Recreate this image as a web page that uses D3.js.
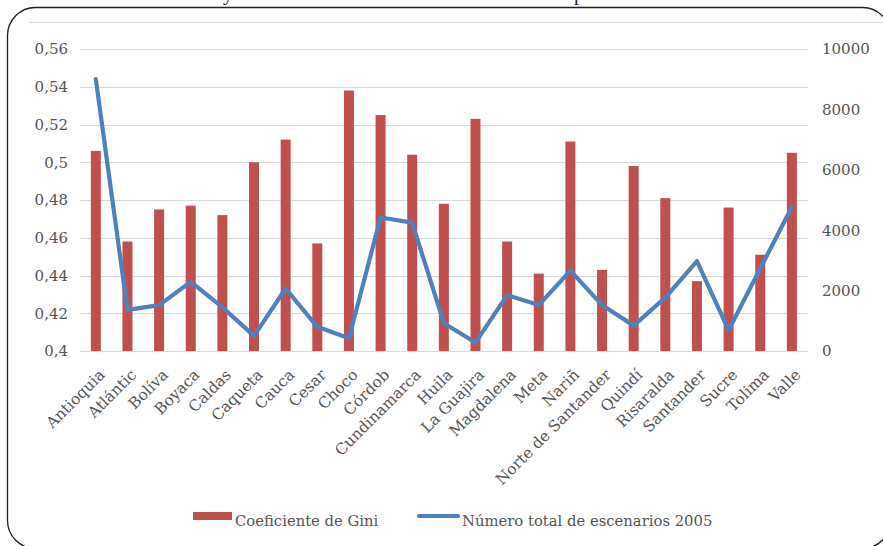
<!DOCTYPE html>
<html>
<head>
<meta charset="utf-8">
<script src="https://cdn.jsdelivr.net/npm/d3@7"></script>
<style>
  html, body { margin: 0; padding: 0; background: #fff; }
  svg { display: block; }
  text { font-family: "DejaVu Serif", "Liberation Serif", serif; fill: #555; }
</style>
</head>
<body>
<svg id="chart" width="883" height="546"></svg>
<script>
// Departments (x axis)
const categories = ["Antioquia", "Atlántic", "Bolíva", "Boyaca", "Caldas", "Caqueta", "Cauca", "Cesar",
  "Choco", "Córdob", "Cundinamarca", "Huila", "La Guajira", "Magdalena", "Meta", "Nariñ",
  "Norte de Santander", "Quindí", "Risaralda", "Santander", "Sucre", "Tolima", "Valle"];

// Gini coefficient per department (left axis, bars)
const gini = [0.506, 0.458, 0.475, 0.477, 0.472, 0.500, 0.512, 0.457, 0.538, 0.525, 0.504, 0.478,
  0.523, 0.458, 0.441, 0.511, 0.443, 0.498, 0.481, 0.437, 0.476, 0.451, 0.505];

// Total number of scenarios, 2005 (right axis, line)
const escenarios = [9000, 1360, 1520, 2290, 1450, 500, 2070, 800, 420, 4420, 4250, 920,
  280, 1850, 1520, 2660, 1520, 840, 1770, 2980, 690, 2730, 4770];

const leftTicks = [0.4, 0.42, 0.44, 0.46, 0.48, 0.5, 0.52, 0.54, 0.56];
const rightTicks = [0, 2000, 4000, 6000, 8000, 10000];

const seriesNames = ["Coeficiente de Gini", "Número total de escenarios 2005"];
const colors = { bar: "#C0504D", line: "#4F81BD", grid: "#D9D9D9" };

const svg = d3.select("#chart");

// Heading text above the frame (only its descenders are visible)
svg.append("text").attr("x", 223).attr("y", 0).style("font-family", "Liberation Serif")
  .style("font-size", "20px").style("fill", "#222").text("y");
svg.append("text").attr("x", 574).attr("y", 0).style("font-family", "Liberation Serif")
  .style("font-size", "20px").style("fill", "#222").text("p");

// Rounded chart frame
svg.append("rect").attr("x", 7.5).attr("y", 7.5).attr("width", 883).attr("height", 541)
  .attr("rx", 28).attr("ry", 28).attr("fill", "none").attr("stroke", "#222").attr("stroke-width", 1.3);
svg.append("line").attr("x1", 29).attr("x2", 883).attr("y1", 22.5).attr("y2", 22.5)
  .attr("stroke", colors.grid).attr("stroke-width", 1);

const plot = { left: 80, right: 807.7, top: 49, bottom: 351 };

const x = d3.scaleBand().domain(categories).range([plot.left, plot.right]).padding(0);
const yL = d3.scaleLinear().domain([0.4, 0.56]).range([plot.bottom, plot.top]);
const yR = d3.scaleLinear().domain([0, 10000]).range([plot.bottom, plot.top]);

// Gridlines from the left axis
svg.append("g").selectAll("line").data(leftTicks).join("line")
  .attr("x1", plot.left).attr("x2", plot.right)
  .attr("y1", d => Math.round(yL(d)) + 0.5).attr("y2", d => Math.round(yL(d)) + 0.5)
  .attr("stroke", colors.grid).attr("stroke-width", 1.2);

// Left axis
const fmtL = v => String(+v.toFixed(2)).replace(".", ",");
const axL = d3.axisLeft(yL).tickValues(leftTicks).tickFormat(fmtL).tickSize(0).tickPadding(0);
const gL = svg.append("g").attr("transform", "translate(68,0)").call(axL);
gL.select(".domain").remove();
gL.selectAll("text").style("font-size", "15px").style("font-family", null).attr("fill", "#555");

// Right axis
const axR = d3.axisRight(yR).tickValues(rightTicks).tickFormat(d3.format("d")).tickSize(0).tickPadding(0);
const gR = svg.append("g").attr("transform", "translate(822,0)").call(axR);
gR.select(".domain").remove();
gR.selectAll("text").style("font-size", "15px").style("font-family", null).attr("fill", "#555");

// Bars
const barW = 10;
svg.append("g").selectAll("rect").data(categories).join("rect")
  .attr("x", (d) => x(d) + x.bandwidth() / 2 - barW / 2)
  .attr("width", barW)
  .attr("y", (d, i) => yL(gini[i]))
  .attr("height", (d, i) => yL(0.4) - yL(gini[i]))
  .attr("fill", colors.bar);

// Line
const line = d3.line()
  .x((d, i) => x(categories[i]) + x.bandwidth() / 2)
  .y(d => yR(d));
svg.append("path").datum(escenarios).attr("d", line)
  .attr("fill", "none").attr("stroke", colors.line).attr("stroke-width", 4.2)
  .attr("stroke-linejoin", "round").attr("stroke-linecap", "round");

// Category labels rotated 45°
const axX = d3.axisBottom(x).tickSize(0).tickPadding(0);
const gX = svg.append("g").call(axX);
gX.select(".domain").remove();
gX.selectAll(".tick").attr("transform", d => `translate(${x(d) + x.bandwidth() / 2 + 6},372)`);
gX.selectAll("text")
  .attr("y", 0).attr("dy", "0.35em")
  .attr("transform", "rotate(-45)")
  .style("text-anchor", "end")
  .style("font-size", "15.4px").style("font-family", null).attr("fill", "#555");

// Legend
const lg = svg.append("g");
lg.append("rect").attr("x", 193).attr("y", 512).attr("width", 39).attr("height", 8).attr("fill", colors.bar);
lg.append("text").attr("x", 235).attr("y", 526).style("font-size", "14.8px").text(seriesNames[0]);
lg.append("line").attr("x1", 419).attr("x2", 458).attr("y1", 516).attr("y2", 516)
  .attr("stroke", colors.line).attr("stroke-width", 4.2).attr("stroke-linecap", "round");
lg.append("text").attr("x", 462).attr("y", 526).style("font-size", "14.8px").text(seriesNames[1]);
</script>
</body>
</html>
